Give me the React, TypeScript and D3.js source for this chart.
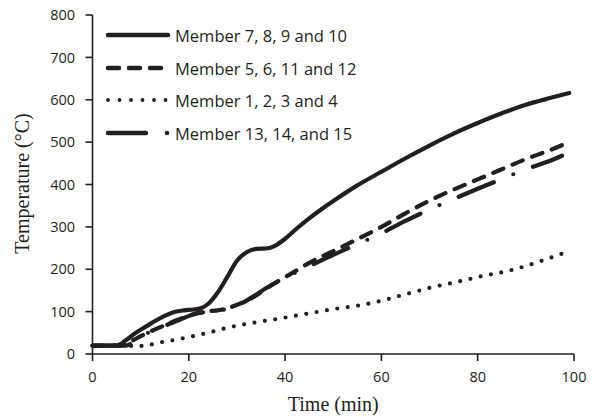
import React from "react";
import * as d3 from "d3";

const xTicks = [0, 20, 40, 60, 80, 100];
const yTicks = [0, 100, 200, 300, 400, 500, 600, 700, 800];

// Member 7, 8, 9 and 10 (solid)
const solidT = [0, 5, 7, 9, 11, 13, 15, 17, 19, 21, 22.5, 24, 26, 28, 30, 32, 34, 36, 38, 40, 42, 45, 50, 55, 60, 65, 70, 75, 80, 85, 90, 95, 99];
const solidV = [20, 20, 33, 50, 64, 78, 90, 99, 103, 105, 108, 118, 145, 182, 220, 240, 248, 249, 256, 272, 292, 320, 361, 398, 430, 462, 492, 520, 545, 568, 588, 604, 616];

// Member 5, 6, 11 and 12 (dashed)
const dashT = [0, 6, 8, 10, 12, 14, 16, 18, 20, 22, 24, 26, 28, 30, 32.5, 35, 38, 41, 45, 50, 55, 60, 65, 70, 75, 80, 85, 90, 95, 99];
const dashV = [20, 20, 30, 42, 53, 63, 73, 82, 90, 97, 101, 103, 108, 116, 128, 146, 168, 188, 215, 243, 271, 300, 332, 362, 388, 412, 436, 460, 481, 500];

// Member 1, 2, 3 and 4 (dotted)
const dotT = [8, 11, 13, 16, 20, 24, 28, 33, 39, 45, 50, 55, 59, 65, 70, 76, 81, 87, 92, 97.5];
const dotV = [19, 19, 25, 31, 40, 50, 62, 73, 84, 96, 106, 114, 123, 141, 156, 171, 184, 198, 215, 237];

// Member 13, 14, and 15 (dash-dot)
const ddT = [0, 7, 9, 11, 14, 18, 21, 24, 27, 30, 33, 36, 40, 45, 50, 55, 60, 65, 70, 75, 80, 85, 90, 95, 97.5];
const ddV = [20, 20, 33, 47, 62, 80, 94, 100, 104, 114, 133, 155, 180, 207, 234, 259, 285, 314, 341, 366, 390, 413, 436, 456, 468];

const legendLabels = [
  "Member 7, 8, 9 and 10",
  "Member 5, 6, 11 and 12",
  "Member 1, 2, 3 and 4",
  "Member 13, 14, and 15",
];

const W = 598;
const H = 417;
const x = d3.scaleLinear().domain([0, 100]).range([92.5, 574]);
const y = d3.scaleLinear().domain([0, 800]).range([354, 15]);

const line = d3
  .line<[number, number]>()
  .x((d) => x(d[0]))
  .y((d) => y(d[1]))
  .curve(d3.curveMonotoneX);

const zip = (a: number[], b: number[]) => a.map((v, i) => [v, b[i]] as [number, number]);

const styles = [
  { dash: undefined as string | undefined, width: 4.2 },
  { dash: "11 10", width: 4.2 },
  { dash: "0 10.5", width: 4.2 },
  { dash: "38 21 0 21", width: 4.2 },
];
const legendStyles = [
  { dash: undefined as string | undefined, width: 4.5 },
  { dash: "11 10", width: 4.5 },
  { dash: "0 11.5", width: 3.8 },
  { dash: "38 21 0 21", width: 4.5 },
];

const series = [zip(solidT, solidV), zip(dashT, dashV), zip(dotT, dotV), zip(ddT, ddV)];

const sans = "'Open Sans', sans-serif";
const serif = "'Liberation Serif', 'Times New Roman', serif";

export default function App() {
  const legendY = [35, 68, 100, 133];
  return (
    <svg width={W} height={H} style={{ position: "absolute", left: 0, top: 0, background: "#fff" }}>
      <rect width={W} height={H} fill="#fff" />
      {series.map((s, i) => (
        <path
          key={i}
          d={line(s) || ""}
          fill="none"
          stroke="#231f20"
          strokeWidth={styles[i].width}
          strokeDasharray={styles[i].dash}
          strokeLinecap="round"
          strokeLinejoin="round"
        />
      ))}
      {/* axes */}
      <line x1={x(0)} x2={x(0)} y1={y(800)} y2={y(0)} stroke="#231f20" strokeWidth={1.6} />
      <line x1={x(0)} x2={x(100)} y1={y(0)} y2={y(0)} stroke="#231f20" strokeWidth={1.6} />
      {yTicks.map((t) => (
        <g key={"y" + t}>
          <line x1={x(0) - 7} x2={x(0)} y1={y(t)} y2={y(t)} stroke="#231f20" strokeWidth={1.6} />
          <text x={75} y={y(t)} dy="0.36em" textAnchor="end" fontFamily={sans} fontSize={14.5} fill="#231f20">
            {t}
          </text>
        </g>
      ))}
      {xTicks.map((t) => (
        <g key={"x" + t}>
          <line x1={x(t)} x2={x(t)} y1={y(0)} y2={y(0) + 7} stroke="#231f20" strokeWidth={1.6} />
          <text x={x(t)} y={382} textAnchor="middle" fontFamily={sans} fontSize={14.5} fill="#231f20">
            {t}
          </text>
        </g>
      ))}
      <text x={(x(0) + x(100)) / 2} y={411} textAnchor="middle" fontFamily={serif} fontSize={20} fill="#231f20">
        Time (min)
      </text>
      <text
        x={29}
        y={183.5}
        transform="rotate(-90, 29, 183.5)"
        textAnchor="middle"
        fontFamily={serif}
        fontSize={20}
        fill="#231f20"
      >
        Temperature (°C)
      </text>
      {/* legend */}
      {legendLabels.map((lab, i) => (
        <g key={lab}>
          <line
            x1={108}
            x2={i === 2 ? 166 : 168}
            y1={legendY[i]}
            y2={legendY[i]}
            stroke="#231f20"
            strokeWidth={legendStyles[i].width}
            strokeDasharray={legendStyles[i].dash}
            strokeLinecap="round"
          />
          <text x={175} y={legendY[i] + 6.5} fontFamily={sans} fontSize={16.5} fill="#231f20">
            {lab}
          </text>
        </g>
      ))}
    </svg>
  );
}
